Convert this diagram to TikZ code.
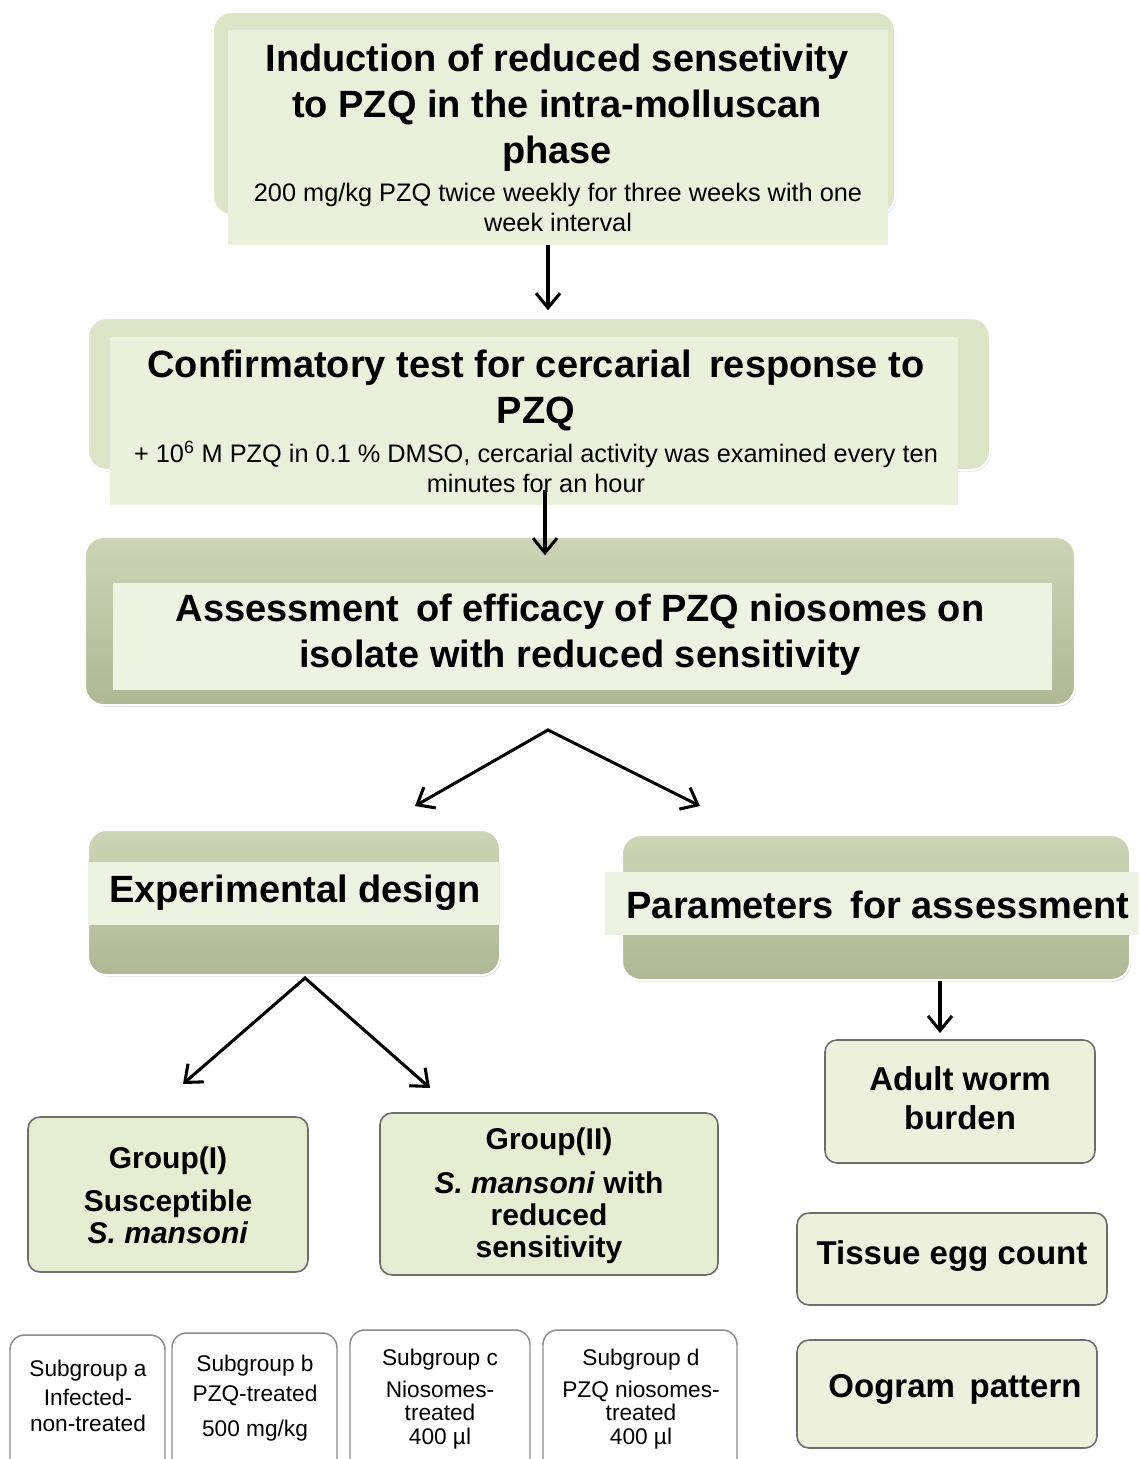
\documentclass[tikz,border=0pt]{standalone}
\usepackage{fontspec}
\setmainfont{Liberation Sans}
\usepackage{xcolor}
\usetikzlibrary{positioning,fit,arrows.meta,shadows}

\definecolor{cardgreen}{HTML}{DCE5C7}
\definecolor{panelgreen}{HTML}{EAF0DC}
\definecolor{olivetop}{HTML}{CDD5B7}
\definecolor{olivebot}{HTML}{AEB894}
\definecolor{bandgreen}{HTML}{EEF2E2}
\definecolor{groupgreen}{HTML}{E5EDD2}
\definecolor{paramfill}{HTML}{EEF0DE}
\definecolor{edgegray}{HTML}{6E6E6E}

\begin{document}
\begin{tikzpicture}[x=0.75pt,y=-0.75pt,
  card/.style={rounded corners=14pt,fill=cardgreen,draw=white,line width=1.5pt,inner sep=0pt,
    drop shadow={opacity=0.25,shadow xshift=0.8pt,shadow yshift=-1.2pt}},
  olive/.style={rounded corners=14pt,top color=olivetop,bottom color=olivebot,draw=white,line width=1.5pt,inner sep=0pt,
    drop shadow={opacity=0.3,shadow xshift=0.8pt,shadow yshift=-1.2pt}},
  panel/.style={fill=panelgreen,inner sep=0pt},
  band/.style={fill=bandgreen,inner sep=0pt},
  grp/.style={rounded corners=9pt,fill=groupgreen,draw=edgegray,line width=1.2pt,inner sep=0pt},
  parbox/.style={rounded corners=9pt,fill=paramfill,draw=edgegray,line width=1.2pt,inner sep=0pt},
  subbox/.style={rounded corners=11pt,fill=white,draw=edgegray!80,line width=1.1pt,inner sep=0pt},
  head/.style={align=center,inner sep=0pt,font=\fontsize{28.5}{34.5}\selectfont\bfseries},
  note/.style={align=center,inner sep=0pt,font=\fontsize{19}{22.5}\selectfont},
  grptext/.style={align=center,inner sep=0pt,font=\fontsize{22.5}{24}\selectfont\bfseries},
  partext/.style={align=center,inner sep=0pt,font=\fontsize{24.75}{29}\selectfont\bfseries},
  subtext/.style={align=center,inner sep=0pt,font=\fontsize{17}{17.5}\selectfont},
  arr/.style={line width=2.3pt,-{Straight Barb[length=11pt,width=18pt]}},
  arrs/.style={line width=2.3pt,line join=miter,{Straight Barb[length=11pt,width=18pt]}-{Straight Barb[length=11pt,width=18pt]}}
]
\useasboundingbox (0,0) rectangle (1139,1459);

% induction step
\node[card, fit={(213,12) (895,215)}] (indCard) {};
\node[panel, fit={(228,30) (888,245)}] (ind) {};
\node[head] (indHead) at (557,108) {Induction of reduced sensetivity\\to PZQ in the intra-molluscan\\phase};
\node[note] (indNote) at (558,207) {200 mg/kg PZQ twice weekly for three weeks with one\\week interval};

% confirmatory test
\node[card, fit={(88,318) (990,470)}] (confCard) {};
\node[panel, fit={(110,337) (958,505)}] (conf) {};
\node[head] (confHead) at (536,390) {Confirmatory test for cercarial\, response to\\PZQ};
\node[note] (confNote) at (536,467) {+ 10\textsuperscript{6} M PZQ in 0.1 \% DMSO, cercarial activity was examined every ten\\minutes for an hour};

% assessment
\node[olive, fit={(85,537) (1075,705)}] (assessCard) {};
\node[band, fit={(113,583) (1052,690)}] (assess) {};
\node[head] (assessHead) at (580,635) {Assessment\, of efficacy of PZQ niosomes on\\isolate with reduced sensitivity};

% two branches
\node[olive, fit={(88,830) (500,975)}] (designCard) {};
\node[band, fit={(88,862) (500,925)}] (design) {};
\node[head] (designHead) at (295,893) {Experimental design};

\node[olive, fit={(622,835) (1130,980)}] (paramCard) {};
\node[band, fit={(605,872) (1139,935)}] (param) {};
\node[head] (paramHead) at (878,905) {Parameters\, for assessment};

% groups
\node[grp, fit={(28,1117) (308,1272)}] (g1) {};
\node[grptext] (g1Text) at (168,1195) {Group(I)\\[8pt]Susceptible\\\textit{S. mansoni}};
\node[grp, fit={(380,1113) (718,1275)}] (g2) {};
\node[grptext] (g2Text) at (549,1196) {Group(II)\\[9pt]\textit{S. mansoni} with\\reduced\\sensitivity};

% parameters
\node[parbox, fit={(825,1040) (1095,1163)}] (worm) {};
\node[partext] (wormText) at (960,1098) {Adult worm\\burden};
\node[parbox, fit={(797,1213) (1107,1305)}] (egg) {};
\node[partext] (eggText) at (952,1256) {Tissue egg count};
\node[parbox, fit={(797,1340) (1097,1448)}] (oog) {};
\node[partext] (oogText) at (955,1389) {Oogram\, pattern};

% subgroups
\node[subbox, fit={(10,1335) (165,1475)}] (sa) {};
\node[subtext] (saText) at (88,1396) {Subgroup a\\[4pt]Infected-\\[2pt]non-treated};
\node[subbox, fit={(172,1333) (337,1475)}] (sb) {};
\node[subtext] (sbText) at (255,1398) {Subgroup b\\[5pt]PZQ-treated\\[9pt]500 mg/kg};
\node[subbox, fit={(350,1330) (530,1475)}] (sc) {};
\node[subtext] (scText) at (440,1399) {Subgroup c\\[6.5pt]Niosomes-\\treated\\400 µl};
\node[subbox, fit={(543,1330) (737,1475)}] (sd) {};
\node[subtext] (sdText) at (641,1399) {Subgroup d\\[6.5pt]PZQ niosomes-\\treated\\400 µl};

% connectors
\coordinate (split1) at (548,730);
\coordinate (toDesign) at (415,806);
\coordinate (toParam) at (700,806);
\coordinate (split2) at (305,978);
\coordinate (toG1) at (183,1084);
\coordinate (toG2) at (430,1088);

\draw[arr] (ind.south) ++(-10,0) -- ++(0,65);
\draw[arr] (conf.south) ++(11,-15) -- ++(0,65);
\draw[arrs] (toDesign) -- (split1) -- (toParam);
\draw[arrs] (toG1) -- (split2) -- (toG2);
\draw[arr] (paramCard.south) ++(64,0) -- ++(0,52);
\end{tikzpicture}
\end{document}
